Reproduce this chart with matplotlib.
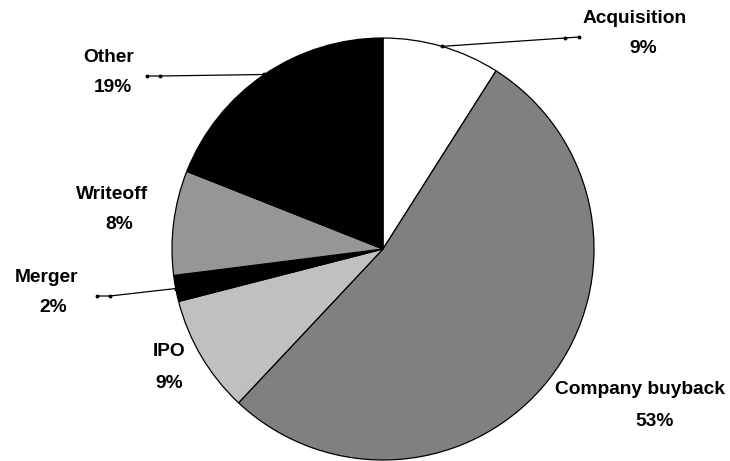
import numpy as np
import matplotlib
matplotlib.use("Agg")
import matplotlib.pyplot as plt

# slice data, clockwise from 12 o'clock
categories = ["Acquisition", "Company buyback", "IPO", "Merger", "Writeoff", "Other"]
shares = [9, 53, 9, 2, 8, 19]
slice_colors = ["#ffffff", "#808080", "#c0c0c0", "#000000", "#969696", "#000000"]

# label placement (pixel coords, y up) for name line and percent line
name_pos = [(635, 443), (640, 71), (169, 109), (46, 183), (112, 267), (109, 404)]
pct_pos = [(643, 413), (655, 39), (169, 78), (53, 154), (119, 237), (113, 374)]

# leader lines: elbow and end points for the slices that have one
leaders = {
    "Acquisition": [(565, 423), (579, 424)],
    "Merger": [(110, 165), (97, 165)],
    "Other": [(160, 385), (147, 385)],
}

W, H = 730, 461
CX, CY, R = 383, 212, 211

fig = plt.figure(figsize=(W / 100, H / 100), dpi=100)
ax = fig.add_axes([0, 0, 1, 1])

wedges, _ = ax.pie(shares, colors=slice_colors, startangle=90, counterclock=False,
                   center=(CX, CY), radius=R, frame=True,
                   wedgeprops=dict(edgecolor="black", linewidth=0.9))
for w in wedges:
    w.set_clip_on(False)
ax.set_xlim(0, W)
ax.set_ylim(0, H)
ax.set_aspect("equal")
ax.axis("off")

font = dict(family="Liberation Sans", fontweight="bold", fontsize=13.8,
            ha="center", va="center", color="black")

for name, share, w, npos, ppos in zip(categories, shares, wedges, name_pos, pct_pos):
    ax.text(npos[0], npos[1], name, **font)
    ax.text(ppos[0], ppos[1], f"{share}%", **font)
    if name in leaders:
        # leader starts on the rim at the slice midpoint
        mid = np.deg2rad((w.theta1 + w.theta2) / 2)
        start = (CX + R * np.cos(mid), CY + R * np.sin(mid))
        pts = [start] + leaders[name]
        xs, ys = zip(*pts)
        ax.plot(xs, ys, color="black", linewidth=0.9, marker="o", markersize=1.8,
                clip_on=False)

fig.savefig("out.png", dpi=100, facecolor="white")
